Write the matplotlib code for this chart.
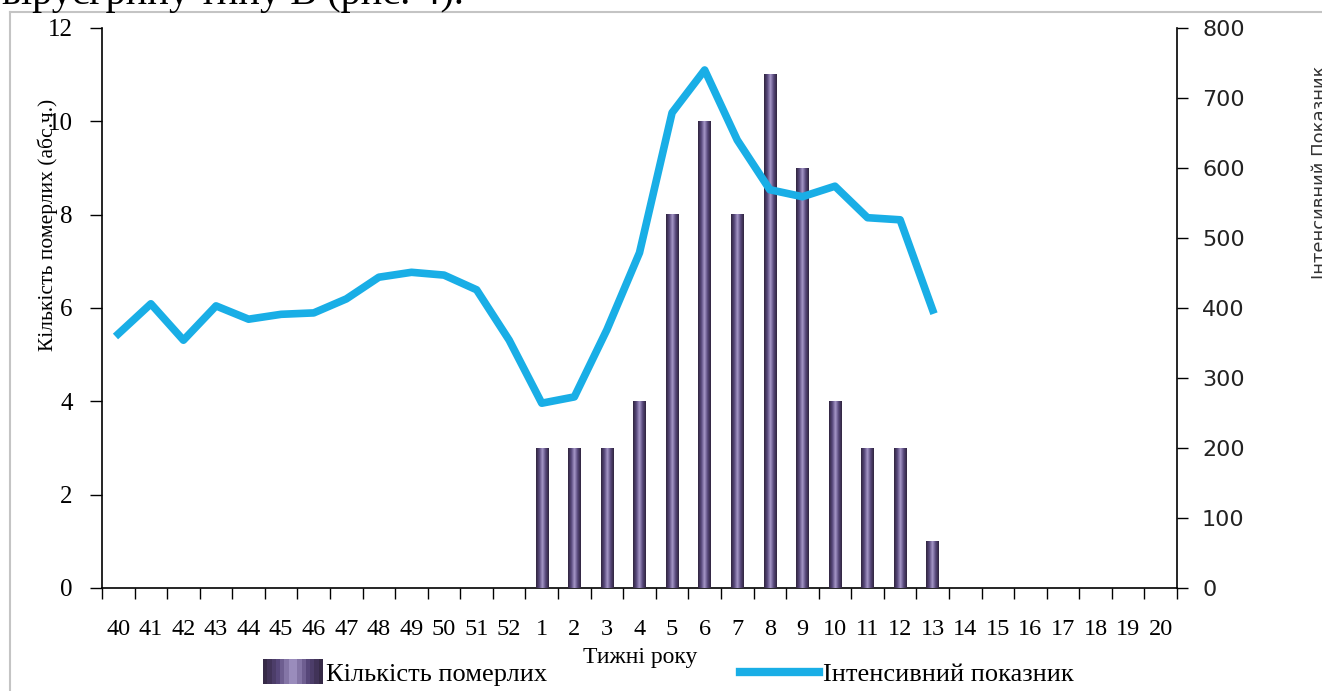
import matplotlib
matplotlib.use("Agg")
import matplotlib.pyplot as plt
import numpy as np
from matplotlib.colors import LinearSegmentedColormap
from matplotlib.lines import Line2D
from matplotlib.patches import Rectangle
from matplotlib.legend_handler import HandlerBase

# Тижні року (40-52 попереднього року, 1-20 поточного)
weeks = [str(w) for w in range(40, 53)] + [str(w) for w in range(1, 21)]

# Кількість померлих (абс.ч.), тільки для тижнів 1-13
deaths_weeks = [str(w) for w in range(1, 14)]
deaths = [3, 3, 3, 4, 8, 10, 8, 11, 9, 4, 3, 3, 1]

# Інтенсивний показник, тижні 40-52 та 1-13
intensity_weeks = [str(w) for w in range(40, 53)] + [str(w) for w in range(1, 14)]
intensity = [363, 406, 354, 403, 384, 391, 393, 413, 444, 451, 447, 426, 354,
             264, 273, 369, 479, 679, 740, 640, 569, 559, 574, 529, 526, 397]

serif = "Liberation Serif"
line_color = "#19AEE6"
bar_cmap = LinearSegmentedColormap.from_list(
    "bar", ["#30253f", "#57477a", "#a698c8", "#57477a", "#30253f"])

fig = plt.figure(figsize=(13.22, 6.91), dpi=100)
ax = fig.add_axes([102 / 1322, 1 - 588 / 691, (1177 - 102) / 1322, (588 - 28) / 691])

x_pos = {w: i for i, w in enumerate(weeks)}
bx = [x_pos[w] for w in deaths_weeks]
bars = ax.bar(bx, deaths, width=0.38, color="#5b4a7e", zorder=2)

# градієнтна заливка стовпців
grad = np.linspace(0, 1, 64).reshape(1, -1)
for b in bars:
    ax.imshow(grad, cmap=bar_cmap, aspect="auto", zorder=3,
              extent=[b.get_x(), b.get_x() + b.get_width(), 0, b.get_height()])

ax.set_xlim(-0.5, len(weeks) - 0.5)
ax.set_ylim(0, 12)
ax.set_yticks(range(0, 13, 2))
ax.set_xticks(range(len(weeks)))
ax.set_xticklabels(weeks, fontfamily=serif, fontsize=17.5)
ax.set_xticks(np.arange(-0.5, len(weeks), 1), minor=True)
ax.tick_params(axis="x", which="major", length=0, pad=22)
ax.tick_params(axis="x", which="minor", length=8, width=1, direction="out")
ax.tick_params(axis="y", length=9, width=1, pad=12, labelsize=18)
for lab in ax.get_yticklabels():
    lab.set_fontfamily(serif)
ax.spines["top"].set_visible(False)
ax.spines["right"].set_visible(False)
for s in ("left", "bottom"):
    ax.spines[s].set_linewidth(1.2)

ax2 = ax.twinx()
lx = [x_pos[w] for w in intensity_weeks]
ax2.plot(lx, intensity, color=line_color, linewidth=5.5, solid_joinstyle="round", zorder=4)
ax2.set_ylim(0, 800)
ax2.set_yticks(range(0, 801, 100))
ax2.tick_params(axis="y", length=8, width=1, pad=10, labelsize=16)
ax2.spines["top"].set_visible(False)
ax2.spines["left"].set_visible(False)
ax2.spines["bottom"].set_visible(False)
ax2.spines["right"].set_linewidth(1.2)
for lab in ax2.get_yticklabels():
    lab.set_fontfamily("DejaVu Sans")
    lab.set_color("#222222")

fig.text(48 / 1322, 1 - 225 / 691, "Кількість померлих (абс.ч.)", rotation=90,
         ha="center", va="center", fontfamily=serif, fontsize=15.5)
fig.text(1320 / 1322, 1 - 172 / 691, "Інтенсивний Показник", rotation=90,
         ha="center", va="center", fontfamily="DejaVu Sans", fontsize=13, color="#333333")
fig.text(640 / 1322, 1 - 658 / 691, "Тижні року", ha="center", va="center",
         fontfamily=serif, fontsize=17)

# уривок тексту документа над діаграмою
fig.text(2 / 1322, 1 - 4 / 691, "віруєгрипу типу В (рис. 4).", ha="left", va="baseline",
         fontfamily=serif, fontsize=29)

# сіра рамка
fig.add_artist(Line2D([10 / 1322, 1], [1 - 12 / 691] * 2, color="#c4c4c4", lw=1.5))
fig.add_artist(Line2D([10 / 1322] * 2, [0, 1 - 12 / 691], color="#c4c4c4", lw=1.5))


class GradientHandler(HandlerBase):
    def create_artists(self, legend, orig_handle, xdescent, ydescent,
                       width, height, fontsize, trans):
        n = 14
        arts = []
        for i in range(n):
            r = Rectangle((-xdescent + width * i / n, -ydescent - 2), width / n, height + 4,
                          facecolor=bar_cmap((i + 0.5) / n), edgecolor="none",
                          transform=trans)
            arts.append(r)
        return arts


leg_y = 1 - 674 / 691
leg_font = {"family": serif, "size": 19}
bar_handle = Rectangle((0, 0), 1, 1)
fig.legend([bar_handle], ["Кількість померлих"],
           handler_map={Rectangle: GradientHandler()},
           loc="center left", bbox_to_anchor=(263 / 1322, leg_y),
           frameon=False, prop=leg_font, borderpad=0, borderaxespad=0,
           handlelength=2.27, handletextpad=0.1)
line_handle = Line2D([0], [0], color=line_color, lw=6)
fig.legend([line_handle], ["Інтенсивний показник"],
           loc="center left", bbox_to_anchor=(740 / 1322, leg_y),
           frameon=False, prop=leg_font, borderpad=0, borderaxespad=0,
           handlelength=3.0, handletextpad=0.15)

fig.savefig("out.png", dpi=100)
